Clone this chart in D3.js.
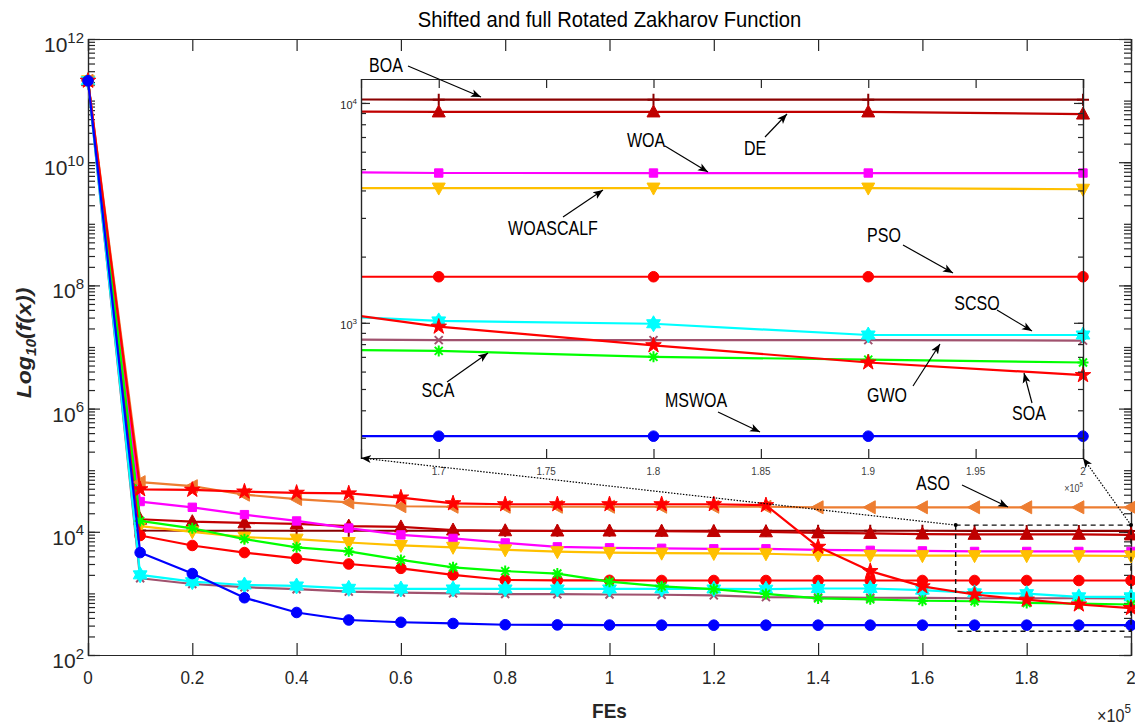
<!DOCTYPE html>
<html>
<head>
<meta charset="UTF-8">
<title>Shifted and full Rotated Zakharov Function</title>
<style>
    body {
        margin: 0;
        background-color: white;
        font-family: "Liberation Sans", Arial, Helvetica, sans-serif;
    }
    .axis path, .axis line {
        stroke: #262626;
        stroke-width: 1.2px;
    }
    .axis text {
        fill: #262626;
    }
    .series {
        fill: none;
        stroke-width: 2.2px;
        stroke-linejoin: round;
    }
    .note {
        stroke: black;
        stroke-width: 1.2px;
    }
</style>
</head>
<body>
<script src="https://d3js.org/d3.v7.min.js"></script>
<script>
    // FEs (x 10^5)
    var fes = [0, 0.1, 0.2, 0.3, 0.4, 0.5, 0.6, 0.7, 0.8, 0.9, 1.0,
               1.1, 1.2, 1.3, 1.4, 1.5, 1.6, 1.7, 1.8, 1.9, 2.0];

    // best fitness per algorithm
    var boa      = [2.1e11, 1.05e4, 1.04e4, 1.04e4, 1.04e4, 1.04e4, 1.04e4, 1.04e4, 1.04e4, 1.04e4, 1.04e4,
                    1.04e4, 1.04e4, 1.04e4, 1.04e4, 1.04e4, 1.04e4, 1.035e4, 1.035e4, 1.035e4, 1.035e4];
    var de       = [2.1e11, 1.6e4, 1.46e4, 1.4e4, 1.34e4, 1.24e4, 1.2e4, 1.07e4, 1.04e4, 1.03e4, 1.03e4,
                    1.02e4, 1.01e4, 1.0e4, 9.6e3, 9.4e3, 9.2e3, 9.1e3, 9.1e3, 9.1e3, 8.9e3];
    var woa      = [2.1e11, 3.1e4, 2.5e4, 1.9e4, 1.5e4, 1.15e4, 8.9e3, 7.8e3, 6.6e3, 5.7e3, 5.5e3,
                    5.4e3, 5.3e3, 5.3e3, 5.1e3, 5.0e3, 4.9e3, 4.8e3, 4.8e3, 4.8e3, 4.8e3];
    var woascalf = [2.1e11, 1.24e4, 1.0e4, 8.2e3, 7.6e3, 6.7e3, 6.0e3, 5.6e3, 5.1e3, 4.75e3, 4.6e3,
                    4.5e3, 4.45e3, 4.4e3, 4.2e3, 4.15e3, 4.1e3, 4.1e3, 4.1e3, 4.1e3, 4.05e3];
    var pso      = [2.1e11, 8.7e3, 6.0e3, 4.6e3, 3.7e3, 3.0e3, 2.55e3, 2.0e3, 1.65e3, 1.63e3, 1.63e3,
                    1.62e3, 1.62e3, 1.62e3, 1.62e3, 1.62e3, 1.62e3, 1.62e3, 1.62e3, 1.62e3, 1.62e3];
    var scso     = [2.1e11, 2.0e3, 1.55e3, 1.37e3, 1.32e3, 1.21e3, 1.18e3, 1.18e3, 1.18e3, 1.18e3, 1.18e3,
                    1.18e3, 1.18e3, 1.17e3, 1.2e3, 1.2e3, 1.13e3, 1.02e3, 990, 880, 880];
    var gwo      = [2.1e11, 1.76e3, 1.42e3, 1.26e3, 1.17e3, 1.07e3, 1.03e3, 1.0e3, 975, 970, 960,
                    950, 930, 870, 860, 850, 845, 834, 834, 834, 830];
    var sca      = [2.1e11, 1.5e4, 1.14e4, 7.6e3, 5.6e3, 4.8e3, 3.5e3, 2.65e3, 2.3e3, 2.1e3, 1.55e3,
                    1.3e3, 1.17e3, 980, 830, 800, 760, 745, 700, 680, 660];
    var soa      = [2.1e11, 4.9e4, 4.8e4, 4.5e4, 4.3e4, 4.2e4, 3.6e4, 2.9e4, 2.8e4, 2.8e4, 2.8e4,
                    2.8e4, 2.8e4, 2.7e4, 5.7e3, 2.3e3, 1.3e3, 960, 790, 660, 578];
    var aso      = [2.1e11, 6.4e4, 5.5e4, 4.0e4, 3.4e4, 3.0e4, 2.6e4, 2.55e4, 2.55e4, 2.55e4, 2.55e4,
                    2.55e4, 2.55e4, 2.55e4, 2.5e4, 2.5e4, 2.5e4, 2.5e4, 2.5e4, 2.5e4, 2.5e4];
    var mswoa    = [2.1e11, 4.6e3, 2.1e3, 850, 490, 370, 340, 325, 310, 308, 306,
                    305, 305, 305, 305, 305, 305, 305, 305, 305, 305];

    var xTicks = [0, 0.2, 0.4, 0.6, 0.8, 1, 1.2, 1.4, 1.6, 1.8, 2];
    var yTickExps = [2, 4, 6, 8, 10, 12];
    var insetXTicks = [1.7, 1.75, 1.8, 1.85, 1.9, 1.95, 2];
    var insetYTickExps = [3, 4];
    var zoomX = [1.6638, 2.0];
    var zoomY = [242.7, 12850];

    var series = [
        {name: "BOA", v: boa, c: "#8B0000", m: "plus"},
        {name: "DE", v: de, c: "#C00000", m: "triUp"},
        {name: "WOA", v: woa, c: "#FF00FF", m: "square"},
        {name: "WOASCALF", v: woascalf, c: "#FFC000", m: "triDown"},
        {name: "PSO", v: pso, c: "#FF0000", m: "circle"},
        {name: "GWO", v: gwo, c: "#A0526E", m: "cross"},
        {name: "SCSO", v: scso, c: "#00FFFF", m: "hexagram"},
        {name: "SCA", v: sca, c: "#00FF00", m: "asterisk"},
        {name: "ASO", v: aso, c: "#ED7D31", m: "triLeft"},
        {name: "SOA", v: soa, c: "#FF0000", m: "star"},
        {name: "MSWOA", v: mswoa, c: "#0000FF", m: "circle"}
    ];

    // labels with arrows inside the zoom box (pixel layout)
    var notes = [
        {t: "BOA", tx: 386, ty: 72, x1: 408, y1: 66, x2: 481, y2: 97},
        {t: "WOA", tx: 646, ty: 147, x1: 665, y1: 146, x2: 708, y2: 172},
        {t: "DE", tx: 755, ty: 155, x1: 765, y1: 137, x2: 787, y2: 114},
        {t: "WOASCALF", tx: 553, ty: 235, x1: 563, y1: 217, x2: 603, y2: 190},
        {t: "PSO", tx: 884, ty: 242, x1: 903, y1: 245, x2: 953, y2: 273},
        {t: "SCSO", tx: 977, ty: 310, x1: 997, y1: 310, x2: 1032, y2: 331},
        {t: "GWO", tx: 887, ty: 402, x1: 913, y1: 386, x2: 940, y2: 344},
        {t: "SOA", tx: 1029, ty: 420, x1: 1032, y1: 403, x2: 1024, y2: 373},
        {t: "SCA", tx: 438, ty: 397, x1: 447, y1: 382, x2: 488, y2: 353},
        {t: "MSWOA", tx: 696, ty: 407, x1: 718, y1: 412, x2: 760, y2: 432},
        {t: "ASO", tx: 933, ty: 490, x1: 962, y1: 485, x2: 1008, y2: 507}
    ];

    var width = 1135, height = 727;

    var svg = d3.select("body").append("svg")
        .attr("width", width)
        .attr("height", height)
        .style("display", "block");

    var defs = svg.append("defs");
    defs.append("marker")
        .attr("id", "head")
        .attr("viewBox", "0 -5 10 10")
        .attr("refX", 10).attr("refY", 0)
        .attr("markerWidth", 10).attr("markerHeight", 10)
        .attr("markerUnits", "userSpaceOnUse")
        .attr("orient", "auto")
        .append("path").attr("d", "M0,-4L10,0L0,4L2.5,0Z").attr("fill", "black");

    // text helper, squeezes horizontally like the original export
    function label(g, x, y, str, size, sx, anchor) {
        return g.append("text")
            .attr("transform", "translate(" + x + "," + y + ") scale(" + sx + ",1)")
            .attr("text-anchor", anchor || "middle")
            .style("font-size", size + "px")
            .text(str);
    }

    var shapes = {
        circle: d3.symbol(d3.symbolCircle, 88)(),
        square: d3.symbol(d3.symbolSquare, 70)(),
        star: d3.symbol(d3.symbolStar, 75)(),
        triUp: "M0,-7L6.5,5L-6.5,5Z",
        triDown: "M0,7L6.5,-5L-6.5,-5Z",
        triLeft: "M-7,0L5,-6.5L5,6.5Z",
        hexagram: "M0,-8L6.9,4L-6.9,4ZM0,8L-6.9,-4L6.9,-4Z",
        plus: "M-6,0H6M0,-6V6",
        cross: "M-4,-4L4,4M-4,4L4,-4",
        asterisk: "M-5.5,0H5.5M0,-5.5V5.5M-4,-4L4,4M-4,4L4,-4"
    };
    var stroked = {plus: 1, cross: 1, asterisk: 1};

    function drawSeries(g, xs, ys, keep) {
        series.forEach(function(s) {
            var pts = fes.map(function(f, i) { return [f, s.v[i]]; });
            var line = d3.line()
                .x(function(d) { return xs(d[0]); })
                .y(function(d) { return ys(d[1]); });
            g.append("path")
                .attr("class", "series")
                .attr("clip-path", keep ? "url(#insetClip)" : null)
                .attr("d", line(pts))
                .attr("stroke", s.c);
            g.selectAll(null)
                .data(pts.filter(function(d) { return !keep || keep(d); }))
                .enter().append("path")
                .attr("transform", function(d) { return "translate(" + xs(d[0]) + "," + ys(d[1]) + ")"; })
                .attr("d", shapes[s.m])
                .attr("fill", stroked[s.m] ? "none" : s.c)
                .attr("stroke", s.c)
                .attr("stroke-width", stroked[s.m] ? 2 : 1);
        });
    }

    function minorTicks(lo, hi) {
        var out = [];
        for (var e = lo; e < hi; e++) {
            for (var k = 1; k < 10; k++) out.push(k * Math.pow(10, e));
        }
        out.push(Math.pow(10, hi));
        return out;
    }

    function supLabels(sel, size, supSize, dx, dy) {
        sel.each(function(e) {
            var t = d3.select(this).append("text")
                .attr("x", dx).attr("y", e.y + dy)
                .attr("text-anchor", "end")
                .style("font-size", size + "px")
                .attr("fill", "#262626");
            t.append("tspan").text("10");
            t.append("tspan").attr("dy", -size * 0.45).style("font-size", supSize + "px").text(e.exp);
        });
    }

    // ---------- main axes ----------
    var m = {left: 88, right: 1131, top: 39, bottom: 655};
    var x = d3.scaleLinear().domain([0, 2]).range([m.left, m.right]);
    var y = d3.scaleLog().domain([1e2, 1e12]).range([m.bottom, m.top]);

    label(svg, (m.left + m.right) / 2, 27, "Shifted and full Rotated Zakharov Function", 22, 0.92)
        .attr("fill", "#000");

    var allMinor = minorTicks(2, 12);

    svg.append("g").attr("class", "axis")
        .attr("transform", "translate(0," + m.bottom + ")")
        .call(d3.axisBottom(x).tickValues(xTicks).tickSize(-12).tickFormat(""));
    svg.append("g").attr("class", "axis")
        .attr("transform", "translate(0," + m.top + ")")
        .call(d3.axisTop(x).tickValues(xTicks).tickSize(-12).tickFormat(""));
    svg.append("g").attr("class", "axis")
        .attr("transform", "translate(" + m.left + ",0)")
        .call(d3.axisLeft(y).tickValues(allMinor).tickSize(-7).tickFormat(""));
    svg.append("g").attr("class", "axis")
        .attr("transform", "translate(" + m.right + ",0)")
        .call(d3.axisRight(y).tickValues(allMinor).tickSize(-7).tickFormat(""));
    svg.append("g").attr("class", "axis")
        .attr("transform", "translate(" + m.left + ",0)")
        .call(d3.axisLeft(y).tickValues(yTickExps.map(function(e) { return Math.pow(10, e); })).tickSize(-12).tickFormat(""));
    svg.append("g").attr("class", "axis")
        .attr("transform", "translate(" + m.right + ",0)")
        .call(d3.axisRight(y).tickValues(yTickExps.map(function(e) { return Math.pow(10, e); })).tickSize(-12).tickFormat(""));

    var xl = svg.append("g").attr("fill", "#262626");
    xTicks.forEach(function(t) {
        label(xl, x(t), 684, String(t), 18, 0.95);
    });

    supLabels(svg.append("g").selectAll(null)
        .data(yTickExps.map(function(e) { return {exp: e, y: y(Math.pow(10, e))}; })).enter().append("g"),
        21, 15, 84, 13);

    label(svg, (m.left + m.right) / 2, 718, "FEs", 20, 0.95).style("font-weight", "bold").attr("fill", "#262626");
    var ex = label(svg, 1131, 722, "", 18, 0.9, "end").attr("fill", "#262626");
    ex.append("tspan").text("\u00d710");
    ex.append("tspan").attr("dy", -9).style("font-size", "13px").text("5");

    var yt = svg.append("text")
        .attr("transform", "translate(31,343) rotate(-90) scale(1.1,1)")
        .attr("text-anchor", "middle")
        .style("font-size", "21px")
        .style("font-weight", "bold")
        .style("font-style", "italic")
        .attr("fill", "#262626");
    yt.append("tspan").text("Log");
    yt.append("tspan").attr("dy", 5).style("font-size", "14px").text("10");
    yt.append("tspan").attr("dy", -5).text("(f(x))");

    drawSeries(svg.append("g"), x, y, null);

    // dashed zoom box
    svg.append("rect")
        .attr("x", x(zoomX[0])).attr("y", y(zoomY[1]))
        .attr("width", x(zoomX[1]) - x(zoomX[0]))
        .attr("height", y(zoomY[0]) - y(zoomY[1]))
        .attr("fill", "none").attr("stroke", "#111")
        .attr("stroke-width", 1.4).attr("stroke-dasharray", "5,4");

    // ---------- inset ----------
    var ib = {left: 361, right: 1083, top: 79, bottom: 458};
    var xi = d3.scaleLinear().domain(zoomX).range([ib.left, ib.right]);
    var yi = d3.scaleLog().domain(zoomY).range([ib.bottom, ib.top]);

    defs.append("clipPath").attr("id", "insetClip")
        .append("rect").attr("x", ib.left).attr("y", ib.top)
        .attr("width", ib.right - ib.left).attr("height", ib.bottom - ib.top);

    var inset = svg.append("g");
    inset.append("rect")
        .attr("x", ib.left).attr("y", ib.top)
        .attr("width", ib.right - ib.left).attr("height", ib.bottom - ib.top)
        .attr("fill", "white");

    drawSeries(inset.append("g"), xi, yi, function(d) {
        return d[0] >= zoomX[0] && d[0] <= zoomX[1] && d[1] >= zoomY[0] && d[1] <= zoomY[1];
    });

    var inMinor = minorTicks(2, 4).filter(function(v) { return v >= zoomY[0] && v <= zoomY[1]; });
    inset.append("g").attr("class", "axis")
        .attr("transform", "translate(0," + ib.bottom + ")")
        .call(d3.axisBottom(xi).tickValues(insetXTicks).tickSize(-9).tickFormat(""));
    inset.append("g").attr("class", "axis")
        .attr("transform", "translate(0," + ib.top + ")")
        .call(d3.axisTop(xi).tickValues(insetXTicks).tickSize(-9).tickFormat(""));
    inset.append("g").attr("class", "axis")
        .attr("transform", "translate(" + ib.left + ",0)")
        .call(d3.axisLeft(yi).tickValues(inMinor).tickSize(-5).tickFormat(""));
    inset.append("g").attr("class", "axis")
        .attr("transform", "translate(" + ib.right + ",0)")
        .call(d3.axisRight(yi).tickValues(inMinor).tickSize(-5).tickFormat(""));
    inset.append("g").attr("class", "axis")
        .attr("transform", "translate(" + ib.left + ",0)")
        .call(d3.axisLeft(yi).tickValues(insetYTickExps.map(function(e) { return Math.pow(10, e); })).tickSize(-9).tickFormat(""));
    inset.append("g").attr("class", "axis")
        .attr("transform", "translate(" + ib.right + ",0)")
        .call(d3.axisRight(yi).tickValues(insetYTickExps.map(function(e) { return Math.pow(10, e); })).tickSize(-9).tickFormat(""));

    var ixl = inset.append("g").attr("fill", "#404040");
    insetXTicks.forEach(function(t) {
        label(ixl, xi(t), 475, String(t), 11, 0.9);
    });
    var iex = label(inset, 1083, 492, "", 10, 0.9, "end").attr("fill", "#404040");
    iex.append("tspan").text("\u00d710");
    iex.append("tspan").attr("dy", -5).style("font-size", "7px").text("5");

    supLabels(inset.append("g").selectAll(null)
        .data(insetYTickExps.map(function(e) { return {exp: e, y: yi(Math.pow(10, e))}; })).enter().append("g"),
        11, 8, 357, 6);

    // connector lines from the dashed box to the inset
    [[zoomX[0], ib.left], [zoomX[1], ib.right]].forEach(function(p) {
        svg.append("line")
            .attr("x1", x(p[0])).attr("y1", y(zoomY[1]))
            .attr("x2", p[1]).attr("y2", ib.bottom)
            .attr("stroke", "black").attr("stroke-width", 1.2)
            .attr("stroke-dasharray", "1.5,1.5")
            .attr("marker-end", "url(#head)");
        svg.append("circle")
            .attr("cx", x(p[0])).attr("cy", y(zoomY[1])).attr("r", 2).attr("fill", "black");
    });

    // annotations
    var ng = svg.append("g");
    notes.forEach(function(n) {
        label(ng, n.tx, n.ty, n.t, 20, 0.8).attr("fill", "black");
        ng.append("line").attr("class", "note")
            .attr("x1", n.x1).attr("y1", n.y1)
            .attr("x2", n.x2).attr("y2", n.y2)
            .attr("marker-end", "url(#head)");
    });
</script>
</body>
</html>
